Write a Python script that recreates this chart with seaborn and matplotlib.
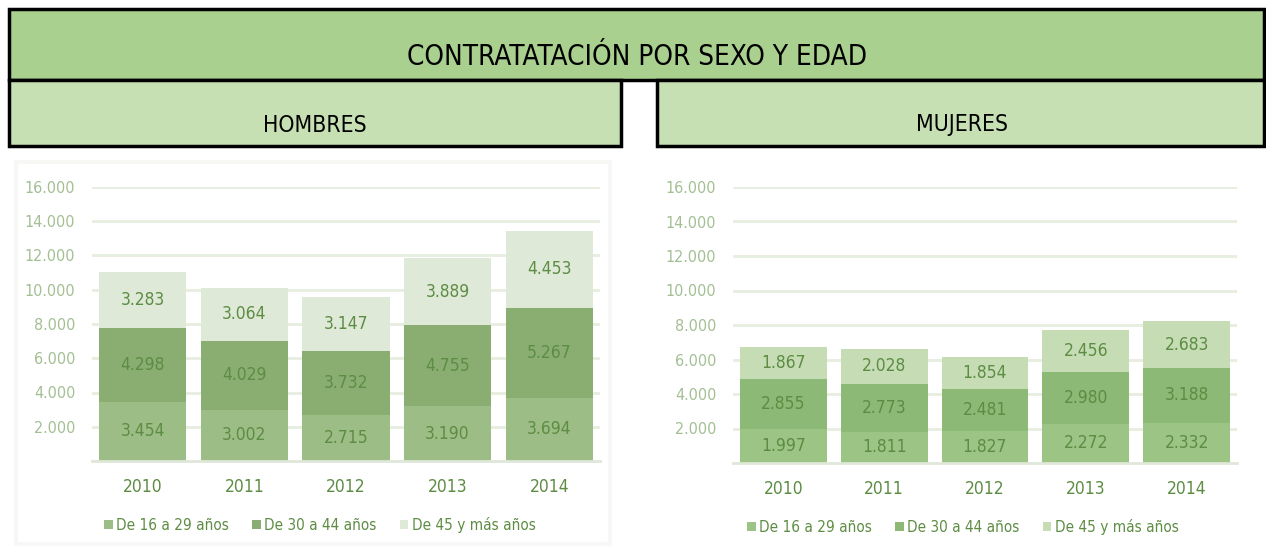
import matplotlib
matplotlib.use("Agg")
import matplotlib.pyplot as plt
import seaborn as sns
import pandas as pd
from matplotlib.patches import Rectangle, Patch

years = ["2010", "2011", "2012", "2013", "2014"]
groups = ["De 16 a 29 años", "De 30 a 44 años", "De 45 y más años"]

hombres_16_29 = [3454, 3002, 2715, 3190, 3694]
hombres_30_44 = [4298, 4029, 3732, 4755, 5267]
hombres_45 = [3283, 3064, 3147, 3889, 4453]

mujeres_16_29 = [1997, 1811, 1827, 2272, 2332]
mujeres_30_44 = [2855, 2773, 2481, 2980, 3188]
mujeres_45 = [1867, 2028, 1854, 2456, 2683]

yticks = [2000, 4000, 6000, 8000, 10000, 12000, 14000, 16000]

sns.set_theme(style="white")
plt.rcParams["font.family"] = ["DejaVu Sans"]
plt.rcParams["font.stretch"] = "condensed"

W, H = 1266, 547
fig = plt.figure(figsize=(W / 100, H / 100), dpi=100)

# header boxes drawn in pixel coords
bg = fig.add_axes([0, 0, 1, 1])
bg.set_xlim(0, W)
bg.set_ylim(H, 0)
bg.axis("off")
bg.add_patch(Rectangle((9, 9), 1255, 71, facecolor="#a9d08e", edgecolor="black", lw=2.5))
bg.add_patch(Rectangle((9, 80), 612, 66, facecolor="#c6e0b4", edgecolor="black", lw=2.5))
bg.add_patch(Rectangle((657, 80), 607, 66, facecolor="#c6e0b4", edgecolor="black", lw=2.5))
bg.text(637, 57, "CONTRATATACIÓN POR SEXO Y EDAD", ha="center", va="center", fontsize=20, color="black")
bg.text(315, 125, "HOMBRES", ha="center", va="center", fontsize=16.5, color="black")
bg.text(962, 125, "MUJERES", ha="center", va="center", fontsize=16.5, color="black")
# faint frame around the left picture
bg.add_patch(Rectangle((16, 162), 594, 382, facecolor="none", edgecolor="#f7f8f6", lw=3))


def fmt(v):
    return f"{v:,}".replace(",", ".")


def draw_panel(rect, low, mid, top, colors, legend_xy):
    x0, x1, ybase, ytop = rect
    ax = fig.add_axes([x0 / W, 1 - ybase / H, (x1 - x0) / W, (ybase - ytop) / H])
    df = pd.DataFrame({
        "year": years,
        "low": low,
        "mid": [a + b for a, b in zip(low, mid)],
        "top": [a + b + c for a, b, c in zip(low, mid, top)],
    })
    for col, c in zip(["top", "mid", "low"], colors[::-1]):
        sns.barplot(data=df, x="year", y=col, color=c, width=0.86, saturation=1,
                    linewidth=0, ax=ax)
    for i in range(len(years)):
        centers = [low[i] / 2, low[i] + mid[i] / 2, low[i] + mid[i] + top[i] / 2]
        for yc, v in zip(centers, [low[i], mid[i], top[i]]):
            ax.text(i, yc, fmt(v), ha="center", va="center", fontsize=12.5, color="#5d8c43")
    ax.set_ylim(0, 16000)
    ax.set_xlim(-0.5, 4.5)
    ax.set_yticks(yticks)
    ax.set_yticklabels([fmt(v) for v in yticks], color="#a3bf93", fontsize=11.5)
    ax.tick_params(axis="x", colors="#5d8c43", labelsize=12.5, pad=12, length=0)
    ax.tick_params(axis="y", length=0, pad=12)
    ax.set_xlabel("")
    ax.set_ylabel("")
    ax.grid(axis="y", color="#e6eedf", lw=2)
    ax.set_axisbelow(True)
    for s in ["top", "right", "left"]:
        ax.spines[s].set_visible(False)
    ax.spines["bottom"].set_color("#dfe7d9")
    ax.spines["bottom"].set_linewidth(2)
    ax.patch.set_alpha(0)
    handles = [Patch(facecolor=c, edgecolor="none") for c in colors]
    fig.legend(handles, groups, loc="center", bbox_to_anchor=(legend_xy[0] / W, 1 - legend_xy[1] / H),
               ncol=3, frameon=False, fontsize=11, handlelength=0.55, handleheight=0.55,
               handletextpad=0.25, columnspacing=1.5, labelcolor="#5d8c43")
    return ax


draw_panel((92, 600, 461, 187), hombres_16_29, hombres_30_44, hombres_45,
           ["#9dbd86", "#8aae72", "#dfe9d8"], (320, 525))
draw_panel((733, 1237, 463, 187), mujeres_16_29, mujeres_30_44, mujeres_45,
           ["#9cc485", "#8cb975", "#c5dcb5"], (963, 527))

fig.savefig("out.png", dpi=100, facecolor="white")
